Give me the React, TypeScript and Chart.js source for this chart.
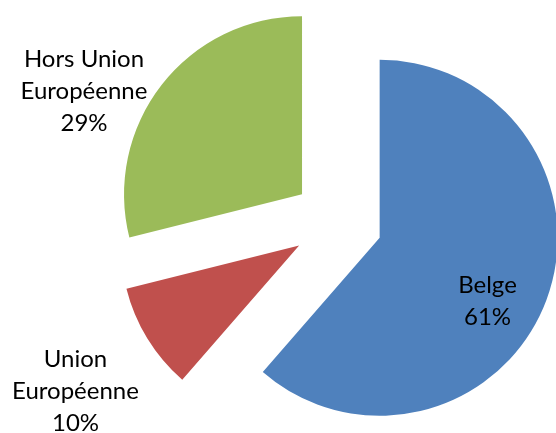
import React, { useEffect, useRef } from "react";
import { Chart, registerables } from "chart.js";

Chart.register(...registerables);

// ---- data ----
const categories = ["Belge", "Union Européenne", "Hors Union Européenne"];
const values = [61.4, 9.7, 28.9]; // shares in %
const colors = ["#4F81BD", "#C0504D", "#9BBB59"];
// how each category name is broken into lines in its label
const nameLines = [["Belge"], ["Union", "Européenne"], ["Hors Union", "Européenne"]];

// ---- layout (not data) ----
const PIE_RADIUS = 178;
const EXPLODE = 45; // px each slice is pulled out along its bisector
const FONT = "24px Lato";
const LINE_PITCH = 32;
// centre x and first-line baseline y of each label
const labelAnchors: [number, number][] = [
  [487.5, 293],
  [75.5, 367],
  [84, 67],
];

// pull each slice out along its mid-angle (exploded pie)
const explodePlugin = {
  id: "explode",
  afterDatasetUpdate(chart: any, args: any) {
    args.meta.data.forEach((arc: any) => {
      const mid = (arc.startAngle + arc.endAngle) / 2;
      arc.x += Math.cos(mid) * EXPLODE;
      arc.y += Math.sin(mid) * EXPLODE;
    });
  },
};

const labelPlugin = {
  id: "sliceLabels",
  afterDraw(chart: any) {
    const ctx = chart.ctx;
    const total = values.reduce((a, b) => a + b, 0);
    ctx.save();
    ctx.font = FONT;
    ctx.fillStyle = "#000000";
    ctx.textAlign = "center";
    ctx.textBaseline = "alphabetic";
    values.forEach((v, i) => {
      const lines = [...nameLines[i], `${Math.round((v / total) * 100)}%`];
      const [x, y] = labelAnchors[i];
      lines.forEach((ln, k) => ctx.fillText(ln, x, y + k * LINE_PITCH));
    });
    ctx.restore();
  },
};

export default function App() {
  const ref = useRef<HTMLCanvasElement | null>(null);
  useEffect(() => {
    if (!ref.current) return;
    const chart = new Chart(ref.current, {
      type: "pie",
      data: {
        labels: categories,
        datasets: [
          {
            data: values,
            backgroundColor: colors,
            borderWidth: 0,
            radius: PIE_RADIUS,
          } as any,
        ],
      },
      options: {
        responsive: false,
        animation: false,
        layout: { padding: { left: 119, right: 0, top: 11, bottom: 0 } },
        plugins: {
          legend: { display: false },
          tooltip: { enabled: false },
        },
      },
      plugins: [explodePlugin, labelPlugin],
    });
    return () => chart.destroy();
  }, []);
  return (
    <div style={{ position: "absolute", left: 0, top: 0, width: 556, height: 433, background: "#fff" }}>
      <canvas ref={ref} width={556} height={433} />
    </div>
  );
}
